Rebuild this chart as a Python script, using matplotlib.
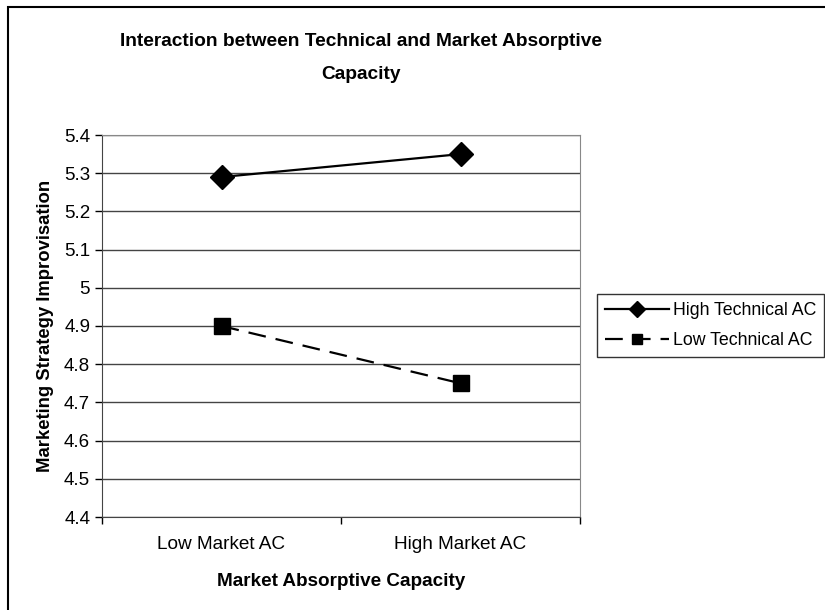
import matplotlib
matplotlib.use('Agg')
import matplotlib.pyplot as plt
from matplotlib.patches import Rectangle

plt.rcParams['font.family'] = ['Liberation Sans', 'DejaVu Sans']

categories = ['Low Market AC', 'High Market AC']
high_tech = [5.29, 5.35]
low_tech = [4.90, 4.75]
yticks = [4.4, 4.5, 4.6, 4.7, 4.8, 4.9, 5.0, 5.1, 5.2, 5.3, 5.4]
ytick_labels = ['4.4', '4.5', '4.6', '4.7', '4.8', '4.9', '5', '5.1', '5.2', '5.3', '5.4']

fig = plt.figure(figsize=(8.25, 6.1), dpi=100)
ax = fig.add_axes([102/825, 1-517/610, 478/825, 382/610])

x = list(range(len(categories)))
ax.plot(x, high_tech, color='black', lw=1.6, marker='D', ms=12, label='High Technical AC')
ax.plot(x, low_tech, color='black', lw=1.6, ls=(0, (8, 4.5)), marker='s', ms=12, label='Low Technical AC')

ax.set_xlim(-0.5, 1.5)
ax.set_ylim(4.4, 5.4)
ax.set_yticks(yticks)
ax.set_yticklabels(ytick_labels, fontsize=13.5)
for y in yticks:
    ax.axhline(y, color='#444444', lw=1, zorder=0)

ax.set_xticks([-0.5, 0.5, 1.5])
ax.set_xticklabels(['', '', ''])
ax.set_xticks(x, minor=True)
ax.set_xticklabels(categories, minor=True, fontsize=13.7)
ax.tick_params(axis='x', which='minor', length=0, pad=14)
ax.tick_params(axis='both', which='major', length=5, width=1, direction='out')

for s in ['top', 'right']:
    ax.spines[s].set_color('#888888')
for s in ['left', 'bottom']:
    ax.spines[s].set_color('#444444')

ax.set_xlabel('Market Absorptive Capacity', fontsize=13.6, fontweight='bold', labelpad=14)
ax.set_ylabel('Marketing Strategy Improvisation', fontsize=13.3, fontweight='bold', labelpad=7)

fig.text(0.437, 1-58/610, 'Interaction between Technical and Market Absorptive\nCapacity',
         ha='center', va='center', fontsize=13.8, fontweight='bold', linespacing=2.3)

leg = fig.legend(loc='upper left', bbox_to_anchor=(597/825, 1-294/610), fontsize=12.8,
                 frameon=True, fancybox=False, edgecolor='black', handlelength=3.6,
                 borderpad=0.45, labelspacing=0.75, handletextpad=0.2, borderaxespad=0,
                 markerscale=0.65)
leg.get_frame().set_linewidth(1)

fig.patches.append(Rectangle((8/825, -0.1), 2, 1-7/610+0.1, transform=fig.transFigure,
                             fill=False, edgecolor='black', lw=1.5))

fig.savefig('out.png', dpi=100)
